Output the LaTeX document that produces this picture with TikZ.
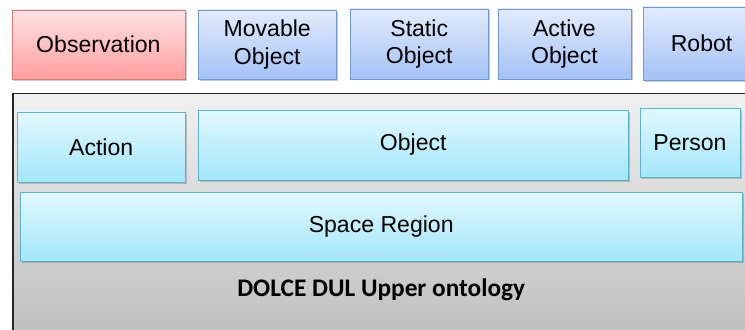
\documentclass[tikz,border=0pt]{standalone}
\usepackage{fontspec}
\setmainfont{Liberation Sans}
\newfontfamily\calibrifont{Carlito}
\usetikzlibrary{shadows}
\definecolor{obsTop}{HTML}{FFE2E2}
\definecolor{obsBot}{HTML}{FF9E9E}
\definecolor{obsLine}{HTML}{D9797A}
\definecolor{blueTop}{HTML}{E2EBFC}
\definecolor{blueBot}{HTML}{A4C2F6}
\definecolor{blueLine}{HTML}{6E9BD8}
\definecolor{cyanTop}{HTML}{E2F8FE}
\definecolor{cyanBot}{HTML}{A2E6FA}
\definecolor{cyanLine}{HTML}{5AB4CC}
\definecolor{layerTop}{HTML}{F0F0F0}
\definecolor{layerBot}{HTML}{BEBEBE}
\newcommand{\drawred}{\node[obsbox]}
\newcommand{\drawblue}{\node[bluebox]}
\newcommand{\drawcyan}{\node[cyanbox]}

\begin{document}
\begin{tikzpicture}[every node/.style={font=\fontsize{16.4}{19.5}\selectfont, align=center, inner sep=0},
  shadowed/.style={drop shadow={shadow xshift=0.04cm, shadow yshift=-0.04cm, opacity=0.35, fill=black!60}},
  obsbox/.style={draw=obsLine, top color=obsTop, bottom color=obsBot, shadowed},
  bluebox/.style={draw=blueLine, top color=blueTop, bottom color=blueBot, shadowed},
  cyanbox/.style={draw=cyanLine, top color=cyanTop, bottom color=cyanBot, shadowed}]
\useasboundingbox (0,0) rectangle (18.625,8.225);
%upper ontology layer
\node[draw=black!85, thick, top color=layerTop, bottom color=layerBot, minimum width=18.7cm, minimum height=6.2cm, anchor=north west] (layer) at (0.31,5.9) {};

\drawcyan[minimum width=4.2cm, minimum height=1.75cm] (action) at (2.53,4.55) {Action};
\drawcyan[minimum width=10.75cm, minimum height=1.75cm] (object) at (10.33,4.6) {Object};
\drawcyan[minimum width=2.5cm, minimum height=1.73cm] (person) at (17.25,4.66) {Person};
\drawcyan[minimum width=18.05cm, minimum height=1.73cm] (space) at (9.53,2.56) {Space Region};
\node[font=\calibrifont\bfseries\fontsize{18}{21}\selectfont] (dul) at (9.53,0.98) {DOLCE DUL Upper ontology};

%robot ontology
\drawred[minimum width=4.33cm, minimum height=1.73cm] (obs) at (2.46,7.11) {Observation};
\drawblue[minimum width=3.45cm, minimum height=1.73cm] (movable) at (6.68,7.11) {Movable\\Object};
\drawblue[minimum width=3.45cm, minimum height=1.75cm] (static) at (10.48,7.13) {Static\\Object};
\drawblue[minimum width=3.33cm, minimum height=1.75cm] (active) at (14.11,7.13) {Active\\Object};
\drawblue[minimum width=2.93cm, minimum height=1.83cm] (robot) at (17.54,7.14) {Robot};

\end{tikzpicture}
\end{document}
